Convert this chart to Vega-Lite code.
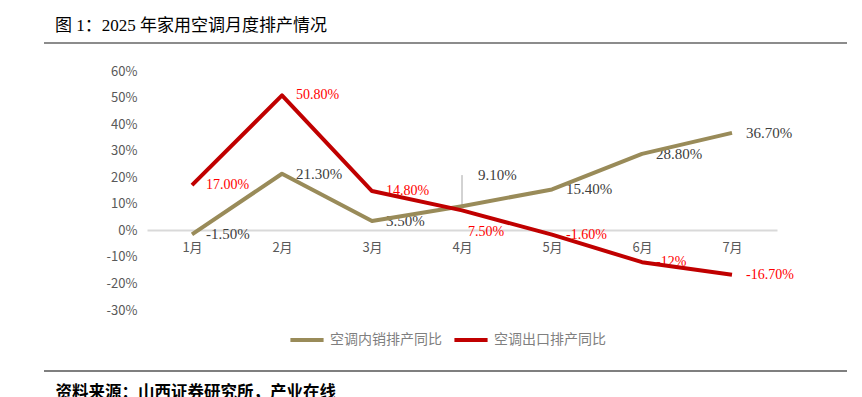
{
  "$schema": "https://vega.github.io/schema/vega-lite/v6.json",
  "width": 803,
  "height": 397,
  "autosize": "none",
  "padding": {"left": 44, "top": 0, "right": 15, "bottom": 0},
  "background": "white",
  "title": {
    "text": "图 1：2025 年家用空调月度排产情况",
    "anchor": "start",
    "frame": "group",
    "dx": 11,
    "offset": -43,
    "baseline": "middle",
    "font": "Liberation Serif, Noto Sans CJK SC",
    "fontSize": 17,
    "fontWeight": "normal",
    "color": "#000000"
  },
  "config": {"view": {"stroke": null}},
  "datasets": {
    "rows": [
      {"month": "1月", "series": "空调内销排产同比", "value": -1.5, "label": "-1.50%"},
      {"month": "2月", "series": "空调内销排产同比", "value": 21.3, "label": "21.30%"},
      {"month": "3月", "series": "空调内销排产同比", "value": 3.5, "label": "3.50%"},
      {"month": "4月", "series": "空调内销排产同比", "value": 9.1, "label": "9.10%"},
      {"month": "5月", "series": "空调内销排产同比", "value": 15.4, "label": "15.40%"},
      {"month": "6月", "series": "空调内销排产同比", "value": 28.8, "label": "28.80%"},
      {"month": "7月", "series": "空调内销排产同比", "value": 36.7, "label": "36.70%"},
      {"month": "1月", "series": "空调出口排产同比", "value": 17.0, "label": "17.00%"},
      {"month": "2月", "series": "空调出口排产同比", "value": 50.8, "label": "50.80%"},
      {"month": "3月", "series": "空调出口排产同比", "value": 14.8, "label": "14.80%"},
      {"month": "4月", "series": "空调出口排产同比", "value": 7.5, "label": "7.50%"},
      {"month": "5月", "series": "空调出口排产同比", "value": -1.6, "label": "-1.60%"},
      {"month": "6月", "series": "空调出口排产同比", "value": -12, "label": "-12%"},
      {"month": "7月", "series": "空调出口排产同比", "value": -16.7, "label": "-16.70%"}
    ]
  },
  "data": {"name": "rows"},
  "layer": [
    {
      "data": {"values": [{"pos": 70.5, "kind": "top"}]},
      "mark": {"type": "rule", "color": "#8c8c8c", "strokeWidth": 2},
      "encoding": {
        "y": {"field": "pos", "type": "quantitative", "scale": {"domain": [-30, 60], "range": [310, 71], "nice": false, "zero": false}}
      }
    },
    {
      "data": {"values": [{"pos": -53, "kind": "bottom"}]},
      "mark": {"type": "rule", "color": "#555555", "strokeWidth": 1.5},
      "encoding": {
        "y": {"field": "pos", "type": "quantitative", "scale": {"domain": [-30, 60], "range": [310, 71], "nice": false, "zero": false}}
      }
    },
    {
      "data": {"values": [{"m": "4月", "a": 9.1, "b": 20.8}]},
      "mark": {"type": "rule", "color": "#a6a6a6", "strokeWidth": 1},
      "encoding": {
        "x": {"field": "m", "type": "ordinal"},
        "y": {"field": "a", "type": "quantitative"},
        "y2": {"field": "b"}
      }
    },
    {
      "transform": [{"filter": "datum.series === '空调内销排产同比' && datum.month !== '4月'"}],
      "mark": {"type": "text", "align": "left", "baseline": "middle", "dx": 14, "font": "Liberation Serif", "fontSize": 15, "color": "#404040"},
      "encoding": {
        "x": {"field": "month", "type": "ordinal"},
        "y": {"field": "value", "type": "quantitative"},
        "text": {"field": "label"}
      }
    },
    {
      "transform": [{"filter": "datum.series === '空调内销排产同比' && datum.month === '4月'"}],
      "mark": {"type": "text", "align": "left", "baseline": "middle", "dx": 16, "dy": -31, "font": "Liberation Serif", "fontSize": 15, "color": "#404040"},
      "encoding": {
        "x": {"field": "month", "type": "ordinal"},
        "y": {"field": "value", "type": "quantitative"},
        "text": {"field": "label"}
      }
    },
    {
      "transform": [{"filter": "datum.series === '空调出口排产同比' && datum.month !== '4月'"}],
      "mark": {"type": "text", "align": "left", "baseline": "middle", "dx": 14, "font": "Liberation Serif", "fontSize": 14, "color": "#ff0000"},
      "encoding": {
        "x": {"field": "month", "type": "ordinal"},
        "y": {"field": "value", "type": "quantitative"},
        "text": {"field": "label"}
      }
    },
    {
      "transform": [{"filter": "datum.series === '空调出口排产同比' && datum.month === '4月'"}],
      "mark": {"type": "text", "align": "left", "baseline": "middle", "dx": 6, "dy": 22, "font": "Liberation Serif", "fontSize": 14, "color": "#ff0000"},
      "encoding": {
        "x": {"field": "month", "type": "ordinal"},
        "y": {"field": "value", "type": "quantitative"},
        "text": {"field": "label"}
      }
    },
    {
      "mark": {"type": "line", "strokeWidth": 4, "strokeJoin": "round", "strokeCap": "butt"},
      "encoding": {
        "x": {
          "field": "month",
          "type": "ordinal",
          "sort": ["1月", "2月", "3月", "4月", "5月", "6月", "7月"],
          "scale": {"type": "point", "domain": ["1月", "2月", "3月", "4月", "5月", "6月", "7月"], "range": [103, 733], "padding": 0.5},
          "axis": {
            "orient": "bottom",
            "offset": -167,
            "domainColor": "#d9d9d9",
            "domainWidth": 2,
            "ticks": false,
            "grid": false,
            "labelAngle": 0,
            "labelAlign": "center",
            "labelPadding": 17,
            "labelFont": "Noto Sans CJK SC",
            "labelFontSize": 13,
            "labelColor": "#595959",
            "title": "资料来源：山西证券研究所，产业在线",
            "titleX": 11,
            "titleY": 162,
            "titleAlign": "left",
            "titleAnchor": "start",
            "titleBaseline": "middle",
            "titleFont": "Noto Sans CJK SC",
            "titleFontSize": 16.5,
            "titleFontWeight": "bold",
            "titleColor": "#000000"
          }
        },
        "y": {
          "field": "value",
          "type": "quantitative",
          "scale": {"domain": [-30, 60], "range": [310, 71], "nice": false, "zero": false},
          "axis": {
            "orient": "left",
            "offset": -93,
            "domain": false,
            "ticks": false,
            "grid": false,
            "values": [-30, -20, -10, 0, 10, 20, 30, 40, 50, 60],
            "labelExpr": "datum.value + '%'",
            "labelPadding": 0,
            "labelFont": "Noto Sans CJK SC",
            "labelFontSize": 13,
            "labelColor": "#595959",
            "title": null
          }
        },
        "color": {
          "field": "series",
          "type": "nominal",
          "scale": {"domain": ["空调内销排产同比", "空调出口排产同比"], "range": ["#998b59", "#c00000"]},
          "legend": {
            "orient": "none",
            "legendX": 244,
            "legendY": 321,
            "direction": "horizontal",
            "title": null,
            "symbolType": "stroke",
            "symbolStrokeWidth": 4,
            "symbolSize": 1100,
            "labelFont": "Noto Sans CJK SC",
            "labelFontSize": 14,
            "labelColor": "#7f7f7f",
            "labelOffset": 4,
            "columnPadding": 4,
            "padding": 0
          }
        }
      }
    }
  ]
}
